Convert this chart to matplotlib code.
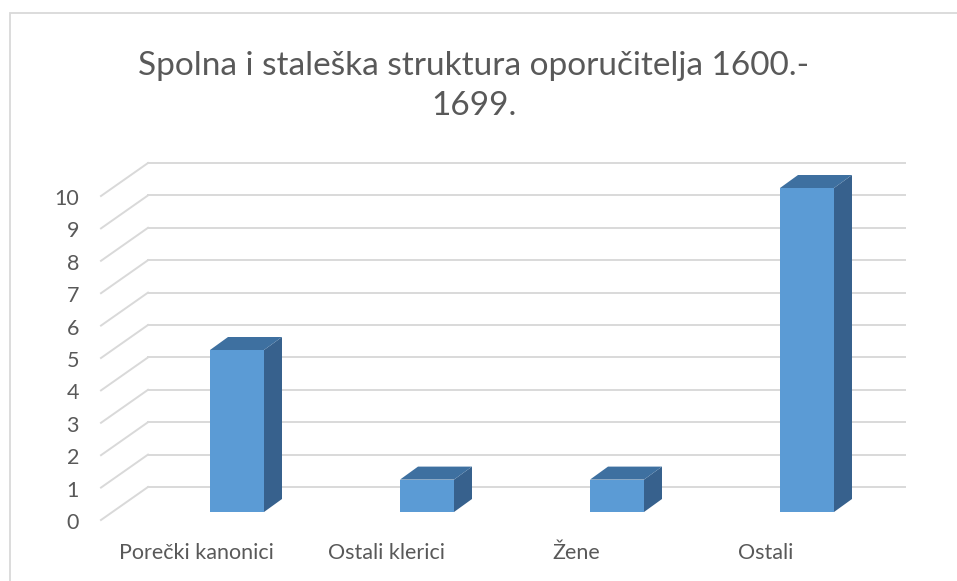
import matplotlib
matplotlib.use("Agg")
import matplotlib.pyplot as plt
from matplotlib.patches import Polygon, Rectangle

plt.rcParams['font.family'] = ['Lato', 'DejaVu Sans']

title = "Spolna i staleška struktura oporučitelja 1600.-\n1699."
categories = ["Porečki kanonici", "Ostali klerici", "Žene", "Ostali"]
values = [5, 1, 1, 10]
y_ticks = list(range(0, 11))

W, H = 957, 581
fig = plt.figure(figsize=(W / 100, H / 100), dpi=100)

# axes = plane of the bar fronts (pixel layout)
ax_l, ax_r, ax_b, ax_t = 142, 902, 512, 188
ax = fig.add_axes([ax_l / W, (H - ax_b) / H, (ax_r - ax_l) / W, (ax_b - ax_t) / H])
ax.set_xlim(-0.5, 3.5)
ax.set_ylim(0, 10)
ax.axis("off")

ux = (ax_r - ax_l) / 4.0      # px per category
uy = (ax_b - ax_t) / 10.0     # px per unit

def px(dx, dy):
    return dx / ux, dy / uy

grid_c = "#d9d9d9"
text_c = "#595959"

# back wall / side floor geometry (offsets in px relative to bar plane)
back_dx, back_dy = px(36, 25)
front_dx, front_dy = px(-11, -8)
wall_x0 = (148 - 36 - ax_l) / ux - 0.5
wall_x1 = (905 - 36 - ax_l) / ux - 0.5

for k in y_ticks:
    ax.plot([wall_x0 + back_dx, wall_x1 + back_dx], [k + back_dy, k + back_dy],
            color=grid_c, lw=1.4, clip_on=False, zorder=1)
    ax.plot([wall_x0 + front_dx, wall_x0 + back_dx], [k + front_dy, k + back_dy],
            color=grid_c, lw=1.4, clip_on=False, zorder=1)
    ax.text(wall_x0 + front_dx - 22 / ux, k + front_dy - 3 / uy, str(k),
            ha="right", va="center", fontsize=15.5, color=text_c)

# bars
bw = 54 / ux
bdx, bdy = px(18, 13)
x = list(range(len(categories)))
ax.bar(x, values, width=bw, color="#5b9bd5", zorder=3, clip_on=False)
for xi, v in zip(x, values):
    r = xi + bw / 2
    l = xi - bw / 2
    side = Polygon([(r, 0), (r, v), (r + bdx, v + bdy), (r + bdx, bdy)],
                   closed=True, facecolor="#37618d", edgecolor="none", zorder=3, clip_on=False)
    top = Polygon([(l, v), (r, v), (r + bdx, v + bdy), (l + bdx, v + bdy)],
                  closed=True, facecolor="#3e70a0", edgecolor="none", zorder=3, clip_on=False)
    ax.add_patch(side)
    ax.add_patch(top)

# category labels
for xi, name in zip(x, categories):
    ax.text(xi - 41 / ux, -41 / uy, name, ha="center", va="center",
            fontsize=15.5, color=text_c)

# title
fig.text(474 / W, 1 - 86 / H, title, ha="center", va="center", fontsize=24,
         color=text_c, linespacing=1.38, multialignment="center")

# chart border
fig.patches.append(Rectangle((10 / W, -0.1), 1.1, 1 - 13 / H + 0.1, transform=fig.transFigure,
                             fill=False, edgecolor=grid_c, lw=1.3))

fig.savefig("out.png", dpi=100, facecolor="white")
